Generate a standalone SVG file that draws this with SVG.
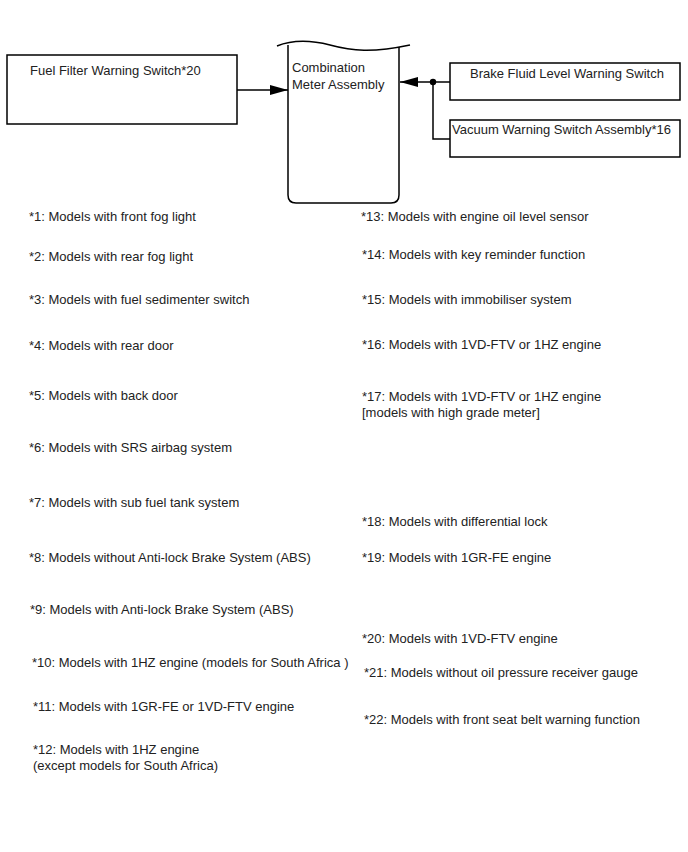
<svg xmlns="http://www.w3.org/2000/svg" width="688" height="852" viewBox="0 0 688 852">
<defs>
<style>
text{font-family:"Liberation Sans",Arial,sans-serif;font-size:13px;fill:#222}
.box{fill:#fff;stroke:#000;stroke-width:1.5}
.ln{fill:none;stroke:#000;stroke-width:1.5}
</style>
<marker id="ah" markerWidth="18" markerHeight="10" refX="18" refY="5" orient="auto" markerUnits="userSpaceOnUse">
<path d="M0,0 L18,5 L0,10 Z" fill="#000"/>
</marker>
</defs>
<rect width="688" height="852" fill="#fff"/>
<g id="fuel-filter">
<rect class="box" x="7" y="55" width="230" height="69"/>
<text x="30" y="75">Fuel Filter Warning Switch*20</text>
</g>
<g id="combination-meter">
<path class="ln" d="M288,45 L288,195 Q288,203 296,203 L391,203 Q399,203 399,195 L399,47"/>
<path class="ln" d="M277,46 C292,40 310,40 330,45 C352,51 372,53 410,45"/>
<text x="292" y="72">Combination</text>
<text x="292" y="89">Meter Assembly</text>
</g>
<g id="brake-fluid">
<rect class="box" x="450" y="63" width="230" height="37"/>
<text x="470" y="78">Brake Fluid Level Warning Switch</text>
</g>
<g id="vacuum-switch">
<rect class="box" x="450" y="120" width="230" height="37"/>
<text x="452" y="134">Vacuum Warning Switch Assembly*16</text>
</g>
<g id="connectors">
<path class="ln" d="M237,90 L288,90" marker-end="url(#ah)"/>
<path class="ln" d="M450,82 L400,82" marker-end="url(#ah)"/>
<path class="ln" d="M433,82 L433,139 L450,139"/>
<circle cx="433" cy="82" r="3.2" fill="#000"/>
</g>
<g id="notes">
<text x="29" y="221">*1: Models with front fog light</text>
<text x="29" y="261">*2: Models with rear fog light</text>
<text x="29" y="304">*3: Models with fuel sedimenter switch</text>
<text x="29" y="350">*4: Models with rear door</text>
<text x="29" y="400">*5: Models with back door</text>
<text x="29" y="452">*6: Models with SRS airbag system</text>
<text x="29" y="507">*7: Models with sub fuel tank system</text>
<text x="29" y="562">*8: Models without Anti-lock Brake System (ABS)</text>
<text x="30" y="614">*9: Models with Anti-lock Brake System (ABS)</text>
<text x="32" y="667">*10: Models with 1HZ engine (models for South Africa )</text>
<text x="33" y="711">*11: Models with 1GR-FE or 1VD-FTV engine</text>
<text x="33" y="754">*12: Models with 1HZ engine</text>
<text x="33" y="770">(except models for South Africa)</text>
<text x="361" y="221">*13: Models with engine oil level sensor</text>
<text x="362" y="259">*14: Models with key reminder function</text>
<text x="362" y="304">*15: Models with immobiliser system</text>
<text x="362" y="349">*16: Models with 1VD-FTV or 1HZ engine</text>
<text x="362" y="401">*17: Models with 1VD-FTV or 1HZ engine</text>
<text x="362" y="417">[models with high grade meter]</text>
<text x="362" y="526">*18: Models with differential lock</text>
<text x="362" y="562">*19: Models with 1GR-FE engine</text>
<text x="362" y="643">*20: Models with 1VD-FTV engine</text>
<text x="364" y="677">*21: Models without oil pressure receiver gauge</text>
<text x="364" y="724">*22: Models with front seat belt warning function</text>
</g>
</svg>
